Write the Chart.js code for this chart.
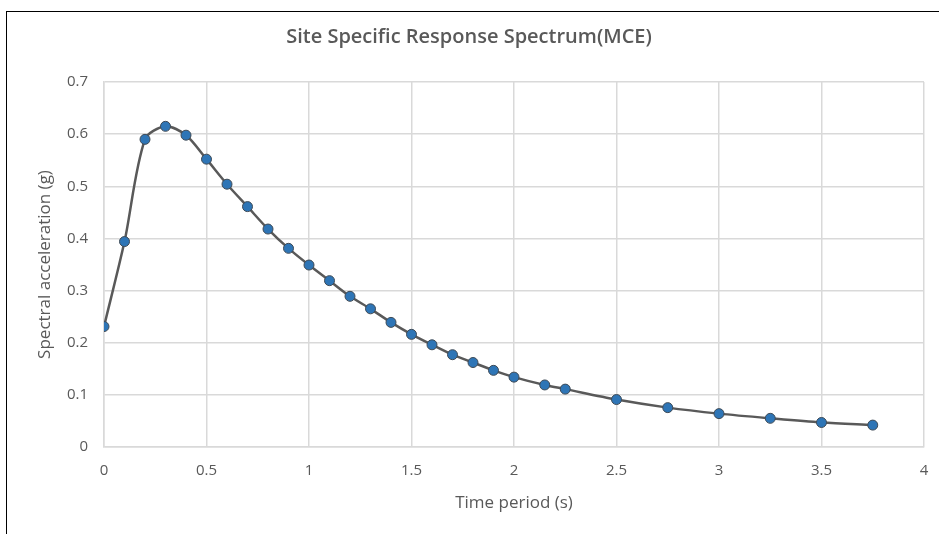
<!DOCTYPE html>
<html>
<head>
<meta charset="utf-8">
<script src="https://cdn.jsdelivr.net/npm/chart.js@4.4.1/dist/chart.umd.min.js"></script>
<style>
  html, body { margin: 0; padding: 0; background: #fff; }
  #wrap { position: relative; width: 939px; height: 534px; }
  #frame { position: absolute; left: 6px; top: 11px; width: 940px; height: 530px;
           border-left: 1px solid #000; border-top: 1px solid #000; pointer-events: none; }
</style>
</head>
<body>
<div id="wrap">
  <canvas id="myChart" width="939" height="534"></canvas>
  <div id="frame"></div>
</div>
<script>
// time period (s)
const periods = [0, 0.1, 0.2, 0.3, 0.4, 0.5, 0.6, 0.7, 0.8, 0.9, 1.0,
    1.1, 1.2, 1.3, 1.4, 1.5, 1.6, 1.7, 1.8, 1.9, 2.0,
    2.15, 2.25, 2.5, 2.75, 3.0, 3.25, 3.5, 3.75];
// spectral acceleration (g)
const accel = [0.231, 0.394, 0.590, 0.615, 0.598, 0.552, 0.504, 0.461, 0.418, 0.381, 0.349,
    0.319, 0.289, 0.265, 0.239, 0.216, 0.196, 0.177, 0.162, 0.147, 0.134,
    0.119, 0.111, 0.091, 0.0755, 0.064, 0.055, 0.047, 0.042];

const chartTitle = 'Site Specific Response Spectrum(MCE)';
const xTitle = 'Time period (s)';
const yTitle = 'Spectral acceleration (g)';

const grey = '#595959';
const gridGrey = '#d9d9d9';
const fontFam = '"Open Sans", "Noto Sans", sans-serif';

let points = periods.map((p, i) => ({ x: p, y: accel[i] }));

// 1.0 -> "1", 0.50 -> "0.5" like excel
const fmt = (v) => String(Math.round(v * 100) / 100);

let ctx = document.getElementById('myChart').getContext('2d');

const config = {
    type: 'scatter',
    data: {
        datasets: [{
            label: 'MCE',
            data: points,
            showLine: true,
            borderColor: grey,
            borderWidth: 2.5,
            tension: 0.3,
            pointRadius: 5,
            pointBackgroundColor: '#2e75b6',
            pointBorderColor: '#3f4a55',
            pointBorderWidth: 1
        }]
    },
    options: {
        responsive: false,
        animation: false,
        layout: { padding: { left: 14, right: 15, top: 15, bottom: 17 } },
        plugins: {
            legend: { display: false },
            tooltip: { enabled: false },
            title: {
                display: true,
                text: chartTitle,
                color: grey,
                font: { family: fontFam, size: 20, weight: '600' },
                padding: { top: 10, bottom: 33 }
            }
        },
        scales: {
            x: {
                type: 'linear',
                min: 0,
                max: 4,
                afterFit: (s) => { s.height = 70; s.paddingRight = 0; s.paddingLeft = 0; },
                ticks: { stepSize: 0.5, color: grey, font: { family: fontFam, size: 15 }, padding: 15, callback: fmt },
                grid: { color: gridGrey, lineWidth: 1.5, drawTicks: false },
                border: { color: gridGrey, width: 1.5 },
                title: { display: true, text: xTitle, color: grey, font: { family: fontFam, size: 17 } }
            },
            y: {
                min: 0,
                max: 0.7,
                afterFit: (s) => { s.width = 90; },
                ticks: { stepSize: 0.1, color: grey, font: { family: fontFam, size: 15 }, padding: 16, callback: fmt },
                grid: { color: gridGrey, lineWidth: 1.5, drawTicks: false },
                border: { color: gridGrey, width: 1.5 },
                title: { display: true, text: yTitle, color: grey, font: { family: fontFam, size: 17 },
                         padding: { top: 21, bottom: 4 } }
            }
        }
    }
};

let myChart = new Chart(ctx, config);
</script>
</body>
</html>
